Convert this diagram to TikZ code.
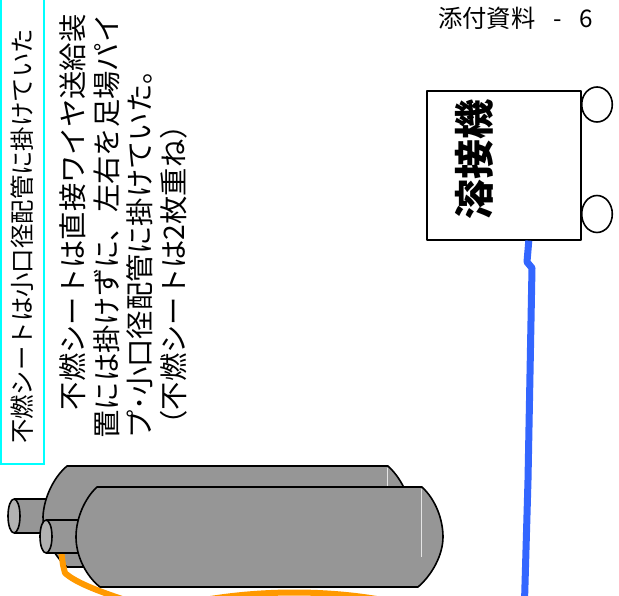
\documentclass[tikz,border=0pt]{standalone}
\usepackage{fontspec}
\newfontfamily\jp{Noto Sans CJK JP}
\definecolor{cylgray}{RGB}{150,150,150}
\definecolor{capgray}{RGB}{178,178,178}
\definecolor{hose}{RGB}{255,153,0}
\definecolor{cable}{RGB}{51,102,255}
\definecolor{sheetline}{RGB}{0,255,255}
\newcommand{\cell}[1]{\makebox[0.6em]{#1}}
\begin{document}
\begin{tikzpicture}[x=1pt,y=-1pt,
  jtext/.style={inner sep=0pt, rotate=90},
  outline/.style={draw=black, line width=1.6pt, line join=round},
  cylbody/.style={outline, fill=cylgray},
  valveend/.style={outline, fill=capgray},
  shine/.style={draw=white!75!cylgray, line width=0.8pt},
  hoseline/.style={draw=hose, line width=6pt, line join=round},
]
\useasboundingbox (0,0) rectangle (619,596);
\fill[white] (0,0) rectangle (619,596);

% note on the left edge
\draw[sheetline, line width=2pt] (1,-4) rectangle (44,464);
\node[jtext, anchor=base west, font=\jp\fontsize{24.4}{28}\selectfont] (note) at (31.8,444)
  {不燃シートは小口径配管に掛けていた};

% remark, four rotated lines
\begin{scope}[every node/.style={jtext, anchor=base west, font=\jp\fontsize{28.3}{33}\selectfont}]
  \node (r1) at (83.5,438.5)  {　不燃シートは直接ワイヤ送給装};
  \node (r2) at (117,438.5)   {置には掛けずに、左右を足場パイ};
  \node (r3) at (150.5,438.5) {プ･小口径配管に掛けていた。};
  \node (r4) at (184,438.5)   {（不燃シートは2枚重ね）};
\end{scope}

% page heading
\node[inner sep=0pt, anchor=west, font=\jp\fontsize{24.3}{28}\selectfont] (title) at (438,18)
  {添付資料\cell{}\cell{-}\cell{}\cell{6}};

% welding machine
\node[outline, fill=white, minimum width=154pt, minimum height=149pt, inner sep=0pt, anchor=north west]
  (welder) at (426,90) {};
\draw[outline, fill=white] (597,104.5) ellipse [x radius=15.3pt, y radius=17.5pt];
\draw[outline, fill=white] (597,214) ellipse [x radius=15.3pt, y radius=18.5pt];
\node[jtext, font=\jp\bfseries\fontsize{40}{44}\selectfont] (wlabel) at (474,160) {溶接機};

% welding cable
\coordinate (cableend) at (524.5,602);
\draw[draw=cable, line width=7pt, line join=round]
  ([xshift=25pt]welder.south) -- (527,262) -- (532,268) -- (528,480) -- (cableend);

% rear cylinder: valve, then body
\fill[cylgray] (14,499) rectangle (56,533);
\draw[outline] (14,499) -- (56,499) (14,533) -- (56,533);
\draw[valveend] (14,516) ellipse [x radius=6pt, y radius=17pt];
\draw[cylbody] (67,466) -- (388,466)
  .. controls (400,477) and (410,495) .. (412,516.5)
  .. controls (410,538) and (400,556) .. (388,567)
  -- (67,567)
  .. controls (54,556) and (43,535) .. (43,516.5)
  .. controls (44,497) and (54,477) .. (67,466) -- cycle;
\draw[shine] (387,467.5) -- (387,486);

% hose from the front valve
\coordinate (hosebend) at (65,573);
\draw[hoseline] (61,550) -- (63,565) -- (hosebend) .. controls (75,582) and (95,590) .. (125,600);
\draw[hoseline] (175,606) .. controls (250,588) and (340,588) .. (410,606);

% front cylinder: valve, then body
\fill[cylgray] (46,520) rectangle (86,553);
\draw[outline] (46,520) -- (86,520) (46,553) -- (86,553);
\draw[valveend] (46,536.5) ellipse [x radius=6pt, y radius=16.5pt];
\draw[cylbody] (97,487) -- (422,487)
  .. controls (436,500) and (443,520) .. (443,537)
  .. controls (443,555) and (432,575) .. (418,587)
  -- (100,587)
  .. controls (86,576) and (76,556) .. (76,537)
  .. controls (76,518) and (85,498) .. (97,487) -- cycle;
\draw[shine] (421,488.5) -- (421,557);
\end{tikzpicture}
\end{document}
